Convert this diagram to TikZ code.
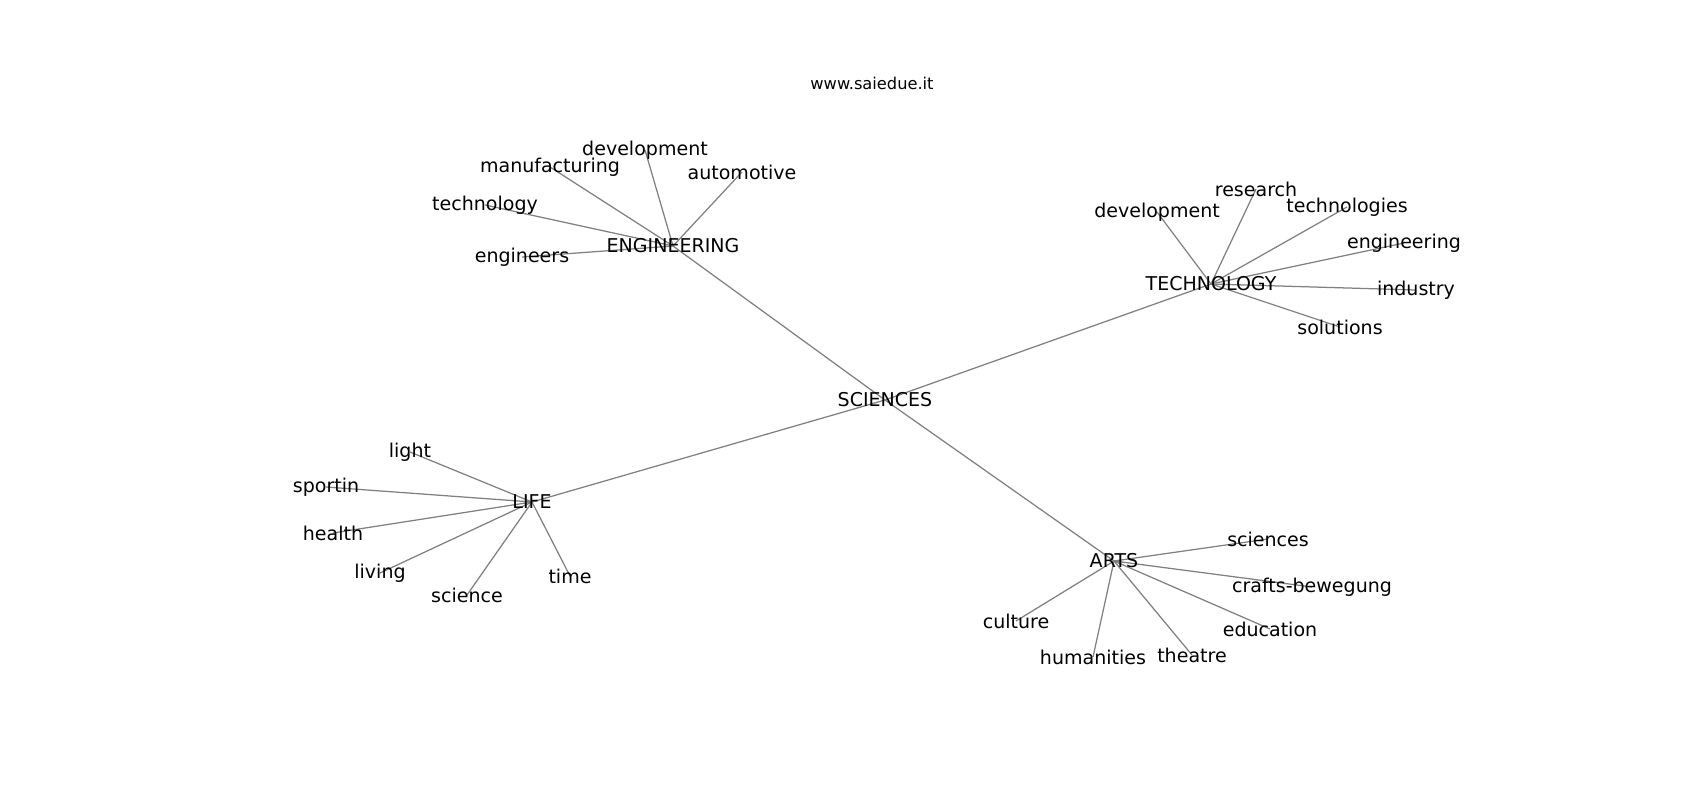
\documentclass[tikz,border=0pt]{standalone}
\usepackage{fontspec}
\setmainfont{DejaVu Sans}
\usepackage{tikz}
\usetikzlibrary{backgrounds}

\tikzset{word/.style={font=\fontsize{13.7}{16}\selectfont, inner sep=0pt},
  link/.style={draw=gray, line width=0.9pt}}

\begin{document}
\begin{tikzpicture}[x=0.72pt,y=-0.72pt]
\useasboundingbox (0,0) rectangle (1700,800);
\node[font=\fontsize{11.7}{14}\selectfont] (title) at (872,83) {www.saiedue.it};

\node[word] (sci) at (885,400) {SCIENCES};
\node[word] (eng) at (673,246) {ENGINEERING};
\node[word] (tech) at (1211,284) {TECHNOLOGY};
\node[word] (life) at (532,502) {LIFE};
\node[word] (arts) at (1114,561) {ARTS};

% engineering
\node[word] (engdev) at (645,150) {development};
\node[word] (manuf) at (550,167) {manufacturing};
\node[word] (auto) at (742,172) {automotive};
\node[word] (engtech) at (485,205) {technology};
\node[word] (engrs) at (522,257) {engineers};

% technology
\node[word] (techdev) at (1157,212) {development};
\node[word] (resrch) at (1256,189) {research};
\node[word] (techs) at (1347,207) {technologies};
\node[word] (techeng) at (1404,243) {engineering};
\node[word] (indus) at (1416,290) {industry};
\node[word] (solut) at (1340,327) {solutions};

% life
\node[word] (light) at (410,452) {light};
\node[word] (sport) at (326,487) {sportin};
\node[word] (health) at (333,533) {health};
\node[word] (living) at (380,573) {living};
\node[word] (lifesci) at (467,595) {science};
\node[word] (time) at (570,576) {time};

% arts
\node[word] (artsci) at (1268,539) {sciences};
\node[word] (crafts) at (1312,587) {crafts-bewegung};
\node[word] (educ) at (1270,629) {education};
\node[word] (theatre) at (1192,655) {theatre};
\node[word] (human) at (1093,657) {humanities};
\node[word] (culture) at (1016,621) {culture};

\begin{scope}[on background layer]
\foreach \b in {eng,tech,life,arts} {
\draw[link] (sci.center) -- (\b.center); }
\foreach \b in {engdev,manuf,auto,engtech,engrs} {
\draw[link] (eng.center) -- (\b.center); }
\foreach \b in {techdev,resrch,techs,techeng,indus,solut} {
\draw[link] (tech.center) -- (\b.center); }
\foreach \b in {light,sport,health,living,lifesci,time} {
\draw[link] (life.center) -- (\b.center); }
\foreach \b in {artsci,crafts,educ,theatre,human,culture} {
\draw[link] (arts.center) -- (\b.center); }
\end{scope}
\end{tikzpicture}
\end{document}
